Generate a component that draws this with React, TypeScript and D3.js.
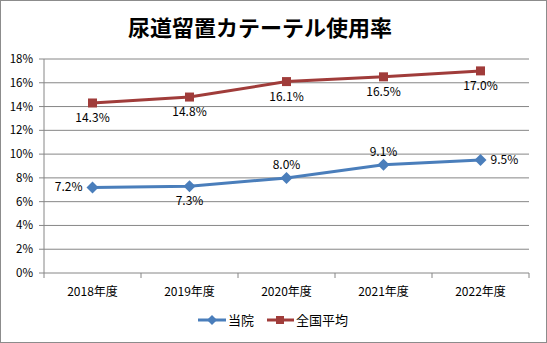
import React from "react";
import * as d3 from "d3";

const categories = ["2018年度", "2019年度", "2020年度", "2021年度", "2022年度"];
const hospital = [7.2, 7.3, 8.0, 9.1, 9.5];
const national = [14.3, 14.8, 16.1, 16.5, 17.0];
const yTicks = [0, 2, 4, 6, 8, 10, 12, 14, 16, 18];
const seriesNames = ["当院", "全国平均"];
// label positions: "left" | "right" | "above" | "below"
const hospitalLabelPos = ["left", "below", "above", "above", "right"];
const nationalLabelPos = ["below", "below", "below", "below", "below"];

const W = 547;
const H = 343;
const BLUE = "#4a7ebb";
const RED = "#a03c3a";
const FONT = "'Noto Sans CJK JP', 'DejaVu Sans', sans-serif";

export default function App() {
  const left = 44, right = 529, top = 59, bottom = 273;
  const x = d3.scaleBand<string>().domain(categories).range([left, right]);
  const y = d3.scaleLinear().domain([0, 18]).range([bottom, top]);
  const cx = (c: string) => (x(c) ?? 0) + x.bandwidth() / 2;
  const line = d3.line<number>().x((_, i) => cx(categories[i])).y((d) => y(d));

  const labelXY = (c: string, v: number, pos: string) => {
    const px = cx(c), py = y(v);
    if (pos === "left") return { x: px - 10, y: py + 4, anchor: "end" };
    if (pos === "right") return { x: px + 10, y: py + 4, anchor: "start" };
    if (pos === "above") return { x: px, y: py - 9, anchor: "middle" };
    return { x: px, y: py + 19, anchor: "middle" };
  };

  return (
    <svg width={W} height={H} style={{ position: "absolute", left: 0, top: 0, background: "#fff" }} fontFamily={FONT}>
      <rect x={0.5} y={0.5} width={W - 1} height={H - 1} fill="#fff" stroke="#8c8c8c" />
      <text x={260} y={36} textAnchor="middle" fontSize={22} fontWeight="bold" fill="#000">
        尿道留置カテーテル使用率
      </text>
      {/* gridlines */}
      {yTicks.map((t) => (
        <g key={t}>
          {t > 0 && <line x1={left} x2={right} y1={y(t)} y2={y(t)} stroke="#868686" strokeWidth={1} />}
          <line x1={left - 5} x2={left} y1={y(t)} y2={y(t)} stroke="#868686" />
          <text x={33} y={y(t) + 4} textAnchor="end" fontSize={11.5} fill="#000">{t}%</text>
        </g>
      ))}
      <line x1={left} x2={left} y1={top} y2={bottom} stroke="#868686" />
      <line x1={left} x2={right} y1={bottom} y2={bottom} stroke="#868686" />
      {categories.map((c, i) => (
        <line key={c} x1={left + i * x.bandwidth()} x2={left + i * x.bandwidth()} y1={bottom} y2={bottom + 5} stroke="#868686" />
      ))}
      <line x1={right} x2={right} y1={bottom} y2={bottom + 5} stroke="#868686" />
      {categories.map((c) => (
        <text key={c} x={cx(c)} y={bottom + 23} textAnchor="middle" fontSize={12} fill="#000">{c}</text>
      ))}
      {/* series */}
      <path d={line(national) ?? ""} fill="none" stroke={RED} strokeWidth={3} />
      <path d={line(hospital) ?? ""} fill="none" stroke={BLUE} strokeWidth={3} />
      {national.map((v, i) => (
        <rect key={i} x={cx(categories[i]) - 4.5} y={y(v) - 4.5} width={9} height={9} fill={RED} />
      ))}
      {hospital.map((v, i) => {
        const px = cx(categories[i]), py = y(v);
        return <path key={i} d={`M${px},${py - 6}L${px + 6},${py}L${px},${py + 6}L${px - 6},${py}Z`} fill={BLUE} />;
      })}
      {national.map((v, i) => {
        const p = labelXY(categories[i], v, nationalLabelPos[i]);
        return <text key={i} x={p.x} y={p.y} textAnchor={p.anchor as any} fontSize={12} fill="#000">{v.toFixed(1)}%</text>;
      })}
      {hospital.map((v, i) => {
        const p = labelXY(categories[i], v, hospitalLabelPos[i]);
        return <text key={i} x={p.x} y={p.y} textAnchor={p.anchor as any} fontSize={12} fill="#000">{v.toFixed(1)}%</text>;
      })}
      {/* legend */}
      <g>
        <line x1={198} x2={226} y1={320} y2={320} stroke={BLUE} strokeWidth={3} />
        <path d="M212,315L217,320L212,325L207,320Z" fill={BLUE} />
        <text x={228} y={325} fontSize={13} fill="#000">{seriesNames[0]}</text>
        <line x1={267} x2={294} y1={320} y2={320} stroke={RED} strokeWidth={3} />
        <rect x={276} y={316} width={8} height={8} fill={RED} />
        <text x={296} y={325} fontSize={13} fill="#000">{seriesNames[1]}</text>
      </g>
    </svg>
  );
}
